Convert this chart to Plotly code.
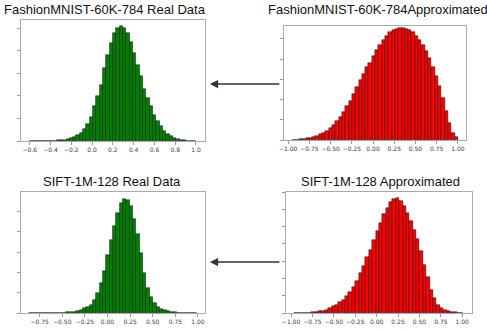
import numpy as np
import plotly.graph_objects as go

# ---------------- data (relative histogram heights, peak = 100) ----------------
tl_title = "FashionMNIST-60K-784 Real Data"
tr_title = "FashionMNIST-60K-784Approximated"
bl_title = "SIFT-1M-128 Real Data"
br_title = "SIFT-1M-128 Approximated"

tl_bin_start, tl_bin_width = -0.6, 0.032
tl_counts = [0, 0, 0, 0, 0.05, 0.1, 0.2, 0.4, 0.6, 0.9,
             1.2, 1.7, 2.6, 3.7, 5.2, 7.2, 10, 15, 21, 30,
             39, 49, 63, 75, 85, 94, 98, 100, 98, 94,
             86, 76, 66, 56, 45, 37, 30, 23, 17, 13,
             9, 6.3, 4.3, 2.9, 1.7, 0.9, 0.5, 0.2, 0.1, 0.05]

tr_bin_start, tr_bin_width = -0.95, 0.039
tr_counts = [0.2, 0.4, 0.6, 0.9, 1.5, 2, 3, 3.8, 5, 6.5,
             8.2, 10.3, 13, 17, 20.6, 25, 30, 35, 41, 47,
             53, 59, 65, 69, 75, 80, 85, 89, 93, 96,
             98, 99, 100, 100, 99, 98, 96, 93, 89, 85,
             79, 73, 65, 57, 48, 37, 26, 15, 6.5, 2.4]

bl_bin_start, bl_bin_width = -0.866, 0.037
bl_counts = [0, 0, 0, 0, 0, 0, 0.05, 0.1, 0.15, 0.2,
             0.3, 0.6, 0.9, 1.2, 1.8, 2.6, 4, 5.3, 7.3, 11.7,
             17.5, 26, 36.5, 51, 64, 76, 88, 96.5, 100, 99.4,
             94, 82, 69, 53, 35, 22, 13.7, 8.8, 5.3, 3.5,
             2.3, 1.5, 0.9, 0.6, 0.3, 0.2, 0.1, 0.05, 0, 0]

br_bin_start, br_bin_width = -0.96, 0.0395
br_counts = [0, 0, 0.1, 0.2, 0.3, 0.6, 0.9, 1.4, 2, 2.9,
             4, 5.8, 7.2, 9.6, 11.6, 14.5, 18.3, 23, 27.5, 35,
             40.6, 48.7, 55, 63, 71, 78, 85.5, 91.3, 96, 99,
             100, 97, 93, 87, 80, 72, 64, 54, 42, 31,
             20, 13, 7.2, 4.3, 2.9, 1.7, 0.9, 0.6, 0.3, 0.2]

tl_ticks = [-0.6, -0.4, -0.2, 0.0, 0.2, 0.4, 0.6, 0.8, 1.0]
tl_ticktext = ["\u22120.6", "\u22120.4", "\u22120.2", "0.0", "0.2", "0.4", "0.6", "0.8", "1.0"]
r_ticks = [-1.0, -0.75, -0.5, -0.25, 0.0, 0.25, 0.5, 0.75, 1.0]
r_ticktext = ["\u22121.00", "\u22120.75", "\u22120.50", "\u22120.25", "0.00", "0.25", "0.50", "0.75", "1.00"]
bl_ticks = [-0.75, -0.5, -0.25, 0.0, 0.25, 0.5, 0.75, 1.0]
bl_ticktext = ["\u22120.75", "\u22120.50", "\u22120.25", "0.00", "0.25", "0.50", "0.75", "1.00"]

# ---------------- layout ----------------
W, H = 487, 333
def xd(a, b):
    return [a / W, b / W]
def yd(top, bot):
    return [1 - bot / H, 1 - top / H]

panels = [
    dict(counts=tl_counts, start=tl_bin_start, width=tl_bin_width, color="#008000",
         xdom=xd(16, 202), ydom=yd(20, 141), xrange=[-0.686, 1.086], yrange=[0, 105],
         ticks=tl_ticks, ticktext=tl_ticktext, dtick=19.6, title=tl_title, tx=101, ty=10),
    dict(counts=tr_counts, start=tr_bin_start, width=tr_bin_width, color="#ff0000",
         xdom=xd(282, 466), ydom=yd(26, 140), xrange=[-1.0475, 1.0975], yrange=[0, 101.5],
         ticks=r_ticks, ticktext=r_ticktext, dtick=18, title=tr_title, tx=377, ty=10),
    dict(counts=bl_counts, start=bl_bin_start, width=bl_bin_width, color="#008000",
         xdom=xd(16, 202), ydom=yd(192, 313), xrange=[-0.958, 1.077], yrange=[0, 106],
         ticks=bl_ticks, ticktext=bl_ticktext, dtick=17.8, title=bl_title, tx=108, ty=181),
    dict(counts=br_counts, start=br_bin_start, width=br_bin_width, color="#ff0000",
         xdom=xd(284, 472), ydom=yd(192, 313), xrange=[-1.058, 1.116], yrange=[0, 105],
         ticks=r_ticks, ticktext=r_ticktext, dtick=15, title=br_title, tx=379, ty=181),
]

fig = go.Figure()
annotations = []
for i, p in enumerate(panels):
    n = len(p["counts"])
    centers = p["start"] + p["width"] * (np.arange(n) + 0.5)
    suffix = "" if i == 0 else str(i + 1)
    fig.add_trace(go.Bar(
        x=centers, y=p["counts"], width=p["width"],
        marker=dict(color=p["color"], line=dict(color="#111111", width=0.5)),
        xaxis="x" + suffix, yaxis="y" + suffix, showlegend=False, hoverinfo="skip"))
    fig.layout["xaxis" + suffix] = dict(
        domain=p["xdom"], range=p["xrange"], anchor="y" + suffix,
        tickvals=p["ticks"], ticktext=p["ticktext"], ticks="outside", ticklen=3,
        tickcolor="#999999", tickfont=dict(family="DejaVu Sans", size=6, color="#3a3a3a"),
        showline=True, linecolor="#aaaaaa", linewidth=1, mirror=True,
        showgrid=False, zeroline=False, fixedrange=True)
    fig.layout["yaxis" + suffix] = dict(
        domain=p["ydom"], range=p["yrange"], anchor="x" + suffix,
        tick0=0, dtick=p["dtick"], ticks="outside", ticklen=3, tickcolor="#999999",
        showticklabels=False, showline=True, linecolor="#aaaaaa", linewidth=1, mirror=True,
        showgrid=False, zeroline=False, fixedrange=True)
    annotations.append(dict(
        text=p["title"], x=p["tx"] / W, y=1 - p["ty"] / H, xref="paper", yref="paper",
        xanchor="center", yanchor="middle", showarrow=False,
        font=dict(family="Liberation Sans", size=13, color="#111111")))

# arrows from approximated panels to real data panels
for y_px in (84, 262):
    annotations.append(dict(
        x=207 / W, y=1 - y_px / H, ax=71, ay=0,
        xref="paper", yref="paper", axref="pixel", ayref="pixel",
        text="", showarrow=True, arrowhead=2, arrowsize=1.1, arrowwidth=1.5,
        arrowcolor="#333333"))

fig.update_layout(
    width=W, height=H, margin=dict(l=0, r=0, t=0, b=0),
    paper_bgcolor="white", plot_bgcolor="white", bargap=0,
    annotations=annotations)

fig.write_html("out.html")
